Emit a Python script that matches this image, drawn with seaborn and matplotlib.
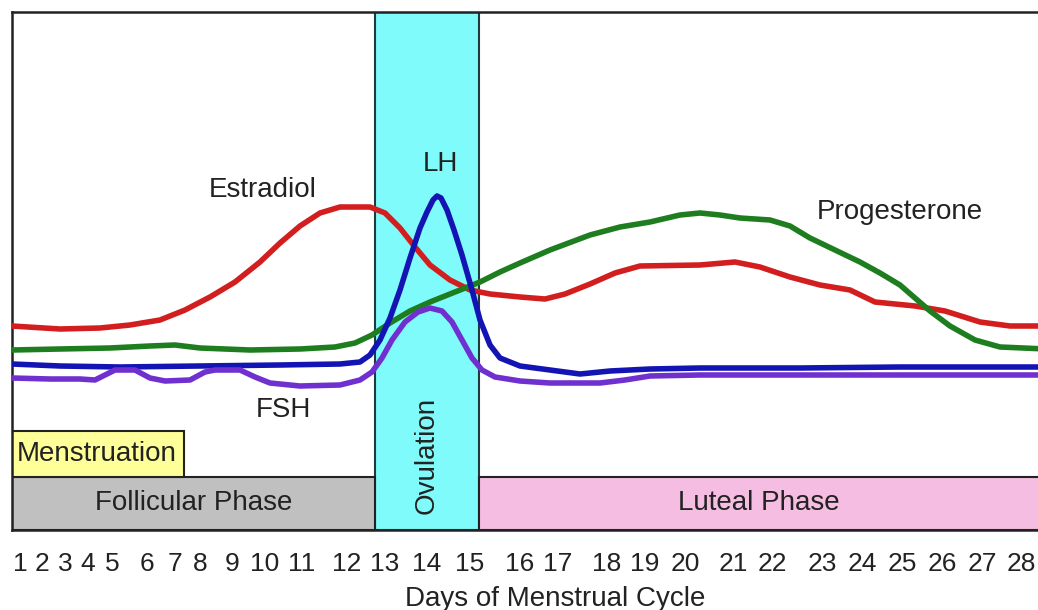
import numpy as np
import pandas as pd
import matplotlib
matplotlib.use("Agg")
import matplotlib.pyplot as plt
import seaborn as sns

# ---------- data (x = position along the cycle axis, y = relative level) ----------
day_labels = [str(d) for d in range(1, 29)]
day_pos = [20, 42, 65, 88, 112, 147, 175, 200, 232, 265, 302, 347, 385, 427,
           470, 520, 558, 607, 645, 685, 733, 772, 822, 862, 902, 942, 982, 1021]

estradiol_x = [12, 60, 100, 130, 160, 185, 210, 235, 260, 280, 300, 320, 340, 370,
               385, 400, 415, 430, 450, 470, 490, 520, 545, 565, 590, 615, 640, 700,
               735, 760, 790, 820, 850, 875, 915, 945, 980, 1010, 1046]
estradiol_y = [204, 201, 202, 205, 210, 220, 233, 248, 268, 287, 304, 317, 323, 323,
               317, 302, 283, 265, 250, 240, 236, 233, 231, 236, 246, 257, 264, 265,
               268, 263, 253, 245, 240, 228, 224, 219, 208, 204, 204]

progesterone_x = [12, 60, 110, 150, 175, 200, 250, 300, 335, 355, 372, 390, 410, 430,
                  455, 480, 500, 520, 550, 590, 620, 650, 680, 700, 720, 740, 770, 790,
                  810, 835, 860, 880, 900, 915, 930, 950, 975, 1000, 1046]
progesterone_y = [180, 181, 182, 184, 185, 182, 180, 181, 183, 187, 195, 207, 219, 228,
                  238, 248, 258, 267, 280, 295, 303, 308, 315, 317, 315, 312, 310, 304,
                  292, 280, 268, 257, 245, 232, 219, 204, 190, 183, 181]

lh_x = [12, 60, 120, 200, 280, 340, 360, 370, 380, 390, 400, 410, 420, 427, 433, 437,
        441, 447, 454, 462, 472, 480, 490, 500, 520, 550, 580, 610, 650, 700, 800, 900,
        1046]
lh_y = [166, 164, 163, 164, 165, 166, 168, 175, 190, 212, 240, 272, 302, 318, 330, 334,
        332, 320, 300, 275, 240, 210, 185, 172, 164, 160, 156, 159, 161, 162, 162, 163,
        163]

fsh_x = [12, 50, 80, 95, 105, 115, 135, 150, 165, 190, 205, 215, 240, 255, 270, 300,
         340, 360, 372, 382, 392, 405, 418, 430, 442, 452, 462, 472, 482, 495, 520, 550,
         600, 625, 650, 700, 800, 900, 1046]
fsh_y = [152, 151, 151, 150, 155, 160, 160, 152, 149, 150, 158, 160, 160, 153, 147, 144,
         145, 150, 158, 172, 190, 208, 218, 222, 219, 208, 190, 172, 160, 153, 149, 147,
         147, 150, 154, 155, 155, 155, 155]

hormone_names = ["Estradiol", "Progesterone", "LH", "FSH"]
hormone_colors = ["#D21E1E", "#1E7D1E", "#1414B4", "#7030D0"]

# phase boxes: (label, start, end, bottom, top, colour)
phase_labels = ["Follicular Phase", "Luteal Phase", "Menstruation"]
phase_start = [12, 479, 12]
phase_end = [375, 1046, 184]
phase_bottom = [0, 0, 53]
phase_top = [53, 53, 99]
phase_colors = ["#C0C0C0", "#F6BDE2", "#FFFF99"]

ovulation_start, ovulation_end = 375, 479

# ---------- build long table ----------
frames = []
for name, xs, ys in zip(hormone_names,
                        [estradiol_x, progesterone_x, lh_x, fsh_x],
                        [estradiol_y, progesterone_y, lh_y, fsh_y]):
    frames.append(pd.DataFrame({"pos": xs, "level": ys, "hormone": name}))
df = pd.concat(frames, ignore_index=True)

# ---------- plot ----------
sns.set_style("white")
plt.rcParams["font.family"] = ["Liberation Sans", "DejaVu Sans"]

fig = plt.figure(figsize=(10.38, 6.10), dpi=100)
ax = fig.add_axes([12 / 1038, 80 / 610, 1034 / 1038, 518 / 610])

ax.axvspan(ovulation_start, ovulation_end, facecolor="#80FBFB",
           edgecolor="#1E3C3C", linewidth=1.5, zorder=1)

sns.lineplot(data=df, x="pos", y="level", hue="hormone", hue_order=hormone_names,
             palette=hormone_colors, sort=False, linewidth=4, legend=False,
             estimator=None, ax=ax, zorder=3)

for lab, s, e, b, t, c in zip(phase_labels, phase_start, phase_end,
                              phase_bottom, phase_top, phase_colors):
    ax.bar(s, t - b, width=e - s, bottom=b, align="edge", color=c,
           edgecolor="#222222", linewidth=1.5, zorder=2)
    ax.text((s + min(e, 1038)) / 2 if lab != "Menstruation" else s + 5,
            (b + t) / 2, lab, fontsize=20, color="#222222",
            ha="center" if lab != "Menstruation" else "left", va="center", zorder=4)

ax.text((ovulation_start + ovulation_end) / 2, 75, "Ovulation", rotation=90,
        fontsize=20, color="#222222", ha="center", va="center", zorder=4)

# hormone labels
ax.text(263, 340, "Estradiol", fontsize=20, color="#222222", ha="center", va="center")
ax.text(440, 366, "LH", fontsize=20, color="#222222", ha="center", va="center")
ax.text(900, 318, "Progesterone", fontsize=20, color="#222222", ha="center", va="center")
ax.text(283, 120, "FSH", fontsize=20, color="#222222", ha="center", va="center")

ax.set_xlim(12, 1046)
ax.set_ylim(0, 518)
ax.set_xticks(day_pos, day_labels, fontsize=19, color="#222222")
ax.set_yticks([])
ax.tick_params(axis="x", length=0, pad=16)
ax.set_xlabel("Days of Menstrual Cycle", fontsize=20, color="#222222")
ax.xaxis.set_label_coords((555 - 12) / 1034, -0.108)
ax.set_ylabel("")

for side in ["left", "top", "bottom"]:
    ax.spines[side].set_color("#222222")
    ax.spines[side].set_linewidth(1.8)
ax.spines["right"].set_visible(False)

fig.savefig("out.png", dpi=100)
